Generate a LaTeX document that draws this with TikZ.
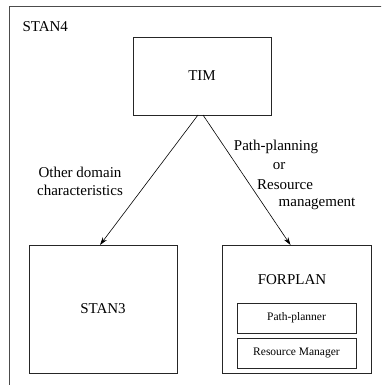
\documentclass[tikz,border=0pt]{standalone}
\usepackage{fontspec}
\setmainfont{Liberation Serif}
\usetikzlibrary{positioning}
\usetikzlibrary{arrows.meta}

\begin{document}
\begin{tikzpicture}[x=1pt, y=-1pt,
        box/.style={draw=black!85, line width=0.8pt, inner sep=0pt, outer sep=0pt},
        bigtext/.style={font=\fontsize{15}{18}\selectfont},
        smalltext/.style={font=\fontsize{11.5}{14}\selectfont},
        link/.style={-{Stealth[length=8pt, width=5pt]}, line width=0.6pt}]
            \useasboundingbox (0,0) rectangle (381,385);
            \clip (0,0) rectangle (381,385);
            \draw[line width=0.8pt, black!70] (9,6) rectangle (400,400);
            \node[bigtext, anchor=west] (stan4) at (19,27) {STAN4};

            \node[box, bigtext, minimum width=138pt, minimum height=78pt] (tim) at (202,76) {TIM};
            \node[box, bigtext, minimum width=148pt, minimum height=128pt] (stan3) at (103,309) {STAN3};
            \node[box, minimum width=149pt, minimum height=128pt] (forplan) at (296.5,309) {};
            \node[bigtext] (forplan_label) at (292,280) {FORPLAN};
            \node[box, smalltext, minimum width=119pt, minimum height=30pt] (pathplanner) at (296.5,318) {Path-planner};
            \node[box, smalltext, minimum width=119pt, minimum height=30pt, below = 5pt of pathplanner] (resmanager) {Resource Manager};

            \draw[link] ([xshift=-4pt]tim.south) -- ([xshift=-3pt]stan3.north);
            \draw[link] ([xshift=1pt]tim.south) -- ([xshift=-6pt]forplan.north);

            \node[bigtext, align=center] (other_label) at (80,181) {Other domain\\characteristics};
            \node[bigtext] (path_label) at (276,147) {Path-planning};
            \node[bigtext] (or_label) at (279,166) {or};
            \node[bigtext] (resource_label) at (285,185) {Resource};
            \node[bigtext] (management_label) at (317,204) {management};
        \end{tikzpicture}
\end{document}
